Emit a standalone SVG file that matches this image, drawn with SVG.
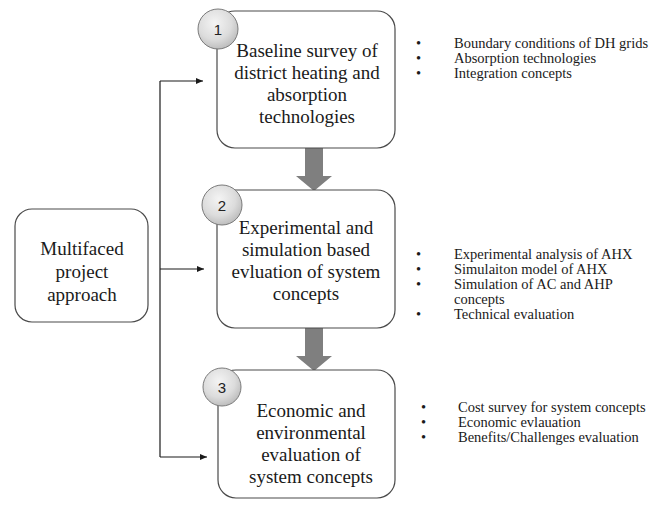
<svg xmlns="http://www.w3.org/2000/svg" width="667" height="509" viewBox="0 0 667 509">
  <defs>
    <radialGradient id="ballFill" cx="0.42" cy="0.35" r="0.7">
      <stop offset="0" stop-color="#f4f4f4"/>
      <stop offset="0.6" stop-color="#dcdcdc"/>
      <stop offset="1" stop-color="#b8b8b8"/>
    </radialGradient>
    <marker id="tip" markerWidth="8" markerHeight="6" refX="7" refY="3" orient="auto" markerUnits="userSpaceOnUse">
      <path d="M0,0 L7,3 L0,6 Z" fill="#1a1a1a"/>
    </marker>
  </defs>
  <style>
    .box { fill: #ffffff; stroke: #4a4a4a; stroke-width: 1.2; }
    .ball { fill: url(#ballFill); stroke: #7a7a7a; stroke-width: 1; }
    .num { font-family: "Liberation Sans", Arial, sans-serif; font-size: 15px; fill: #222; text-anchor: middle; }
    .lbl { font-family: "Liberation Serif", "Times New Roman", serif; font-size: 19px; fill: #1a1a1a; text-anchor: middle; }
    .item { font-family: "Liberation Serif", "Times New Roman", serif; font-size: 14.5px; fill: #1a1a1a; }
    .link { fill: none; stroke: #1a1a1a; stroke-width: 1.2; }
    .flow { fill: #7f7f7f; }
  </style>

  <rect width="667" height="509" fill="#ffffff"/>

  <!-- branching connectors from the approach box -->
  <g id="connectors">
    <path class="link" d="M160,81 L160,457"/>
    <path class="link" d="M160,81 L203,81" marker-end="url(#tip)"/>
    <path class="link" d="M160,269 L204,269" marker-end="url(#tip)"/>
    <path class="link" d="M160,457 L207,457" marker-end="url(#tip)"/>
    <path class="flow" d="M305,148 L323,148 L323,176 L332,176 L314,191 L296,176 L305,176 Z"/>
    <path class="flow" d="M305,328 L323,328 L323,356 L332,356 L314,371 L296,356 L305,356 Z"/>
  </g>

  <g id="approach">
    <rect class="box" x="15" y="209" width="133" height="113" rx="17"/>
    <text class="lbl" x="82" y="255">Multifaced</text>
    <text class="lbl" x="82" y="278">project</text>
    <text class="lbl" x="82" y="301">approach</text>
  </g>

  <g id="stage1">
    <rect class="box" x="217" y="11" width="178" height="137" rx="18"/>
    <text class="lbl" x="307" y="57">Baseline survey of</text>
    <text class="lbl" x="307" y="79">district heating and</text>
    <text class="lbl" x="307" y="101">absorption</text>
    <text class="lbl" x="307" y="123">technologies</text>
    <circle class="ball" cx="218" cy="29" r="20"/>
    <text class="num" x="218" y="35">1</text>
  </g>

  <g id="stage1-notes">
    <text class="item" x="416" y="48">•</text>
    <text class="item" x="454" y="48">Boundary conditions of DH grids</text>
    <text class="item" x="416" y="63">•</text>
    <text class="item" x="454" y="63">Absorption technologies</text>
    <text class="item" x="416" y="78">•</text>
    <text class="item" x="454" y="78">Integration concepts</text>
  </g>

  <g id="stage2">
    <rect class="box" x="217" y="190" width="178" height="138" rx="18"/>
    <text class="lbl" x="306" y="234">Experimental and</text>
    <text class="lbl" x="306" y="256">simulation based</text>
    <text class="lbl" x="306" y="278">evluation of system</text>
    <text class="lbl" x="306" y="300">concepts</text>
    <circle class="ball" cx="222" cy="205" r="20"/>
    <text class="num" x="222" y="211">2</text>
  </g>

  <g id="stage2-notes">
    <text class="item" x="416" y="259">•</text>
    <text class="item" x="454" y="259">Experimental analysis of AHX</text>
    <text class="item" x="416" y="274">•</text>
    <text class="item" x="454" y="274">Simulaiton model of AHX</text>
    <text class="item" x="416" y="289">•</text>
    <text class="item" x="454" y="289">Simulation of AC and AHP</text>
    <text class="item" x="454" y="304">concepts</text>
    <text class="item" x="416" y="319">•</text>
    <text class="item" x="454" y="319">Technical evaluation</text>
  </g>

  <g id="stage3">
    <rect class="box" x="218" y="370" width="177" height="128" rx="18"/>
    <text class="lbl" x="311" y="417">Economic and</text>
    <text class="lbl" x="311" y="439">environmental</text>
    <text class="lbl" x="311" y="461">evaluation of</text>
    <text class="lbl" x="311" y="483">system concepts</text>
    <circle class="ball" cx="222" cy="387" r="19"/>
    <text class="num" x="222" y="393">3</text>
  </g>

  <g id="stage3-notes">
    <text class="item" x="421" y="412">•</text>
    <text class="item" x="458" y="412">Cost survey for system concepts</text>
    <text class="item" x="421" y="427">•</text>
    <text class="item" x="458" y="427">Economic evlauation</text>
    <text class="item" x="421" y="442">•</text>
    <text class="item" x="458" y="442">Benefits/Challenges evaluation</text>
  </g>
</svg>
